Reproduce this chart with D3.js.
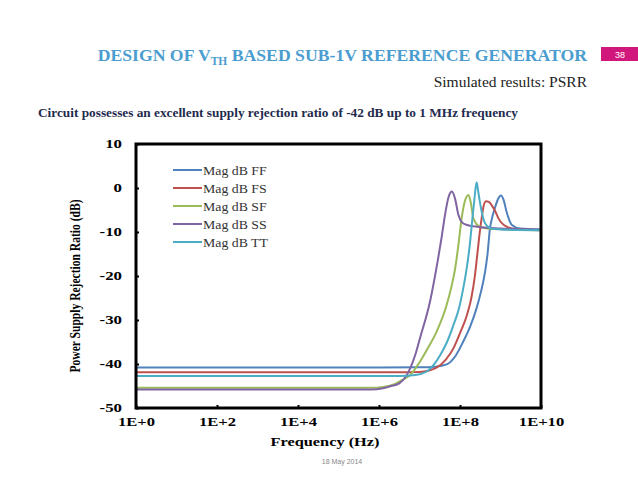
<!DOCTYPE html>
<html>
<head>
<meta charset="utf-8">
<script src="https://cdn.jsdelivr.net/npm/d3@7"></script>
<style>
  body { margin: 0; background: #fff; }
  svg { display: block; }
</style>
</head>
<body>
<svg width="638" height="479"></svg>
<script>
  // series names and colours (Excel 2007 palette)
  const seriesNames = ['Mag dB FF', 'Mag dB FS', 'Mag dB SF', 'Mag dB SS', 'Mag dB TT'];
  const seriesColors = ['#4f81bd', '#c0504d', '#9bbb59', '#8064a2', '#4bacc6'];

  // points as [log10(frequency in Hz), PSRR in dB]
  const ffPoints = [[0,-40.8],[6.0,-40.8],[7.0,-40.75],[7.4,-40.6],[7.67,-40.1],[7.9,-38],[8.08,-34.9],
    [8.25,-31.5],[8.41,-27.3],[8.52,-23.5],[8.62,-19.0],[8.68,-15],[8.74,-9.2],[8.8,-6.5],[8.86,-4.6],
    [8.94,-2.5],[9.01,-1.7],[9.08,-2.8],[9.15,-5.4],[9.28,-8.4],[9.48,-9.2],[10,-9.4]];
  const fsPoints = [[0,-41.9],[6.5,-41.9],[7.0,-41.8],[7.42,-40.8],[7.65,-39],[7.84,-36.4],[8.0,-33],
    [8.17,-28.9],[8.28,-25],[8.37,-19.8],[8.44,-14],[8.49,-9.9],[8.54,-6.5],[8.58,-4.2],[8.64,-3.0],
    [8.72,-3.2],[8.78,-3.9],[8.87,-5.3],[8.95,-6.9],[9.15,-8.8],[9.4,-9.4],[10,-9.6]];
  const sfPoints = [[0,-45.4],[5.8,-45.4],[6.1,-45.2],[6.4,-44.5],[6.6,-43.5],[6.77,-42.5],[7.01,-39.5],
    [7.2,-36.5],[7.42,-32.7],[7.67,-26.6],[7.8,-22],[7.88,-18.3],[7.96,-13],[8.04,-6.9],[8.12,-3],
    [8.21,-1.6],[8.27,-3.5],[8.33,-6.9],[8.49,-8.8],[8.8,-9.3],[10,-9.6]];
  const ssPoints = [[0,-45.8],[5.8,-45.8],[6.1,-45.5],[6.3,-45],[6.5,-44.4],[6.65,-43],[6.77,-41],
    [6.9,-37.8],[7.01,-34.2],[7.26,-25.8],[7.46,-16],[7.55,-11],[7.63,-6.1],[7.72,-2.0],[7.8,-0.8],
    [7.88,-2.5],[7.96,-6.1],[8.05,-7.8],[8.17,-8.4],[8.5,-8.9],[9,-9.2],[10,-9.5]];
  const ttPoints = [[0,-42.7],[6.5,-42.7],[6.9,-42.5],[7.18,-41.7],[7.35,-40.2],[7.51,-38],[7.68,-35],
    [7.84,-31.1],[7.97,-27.5],[8.08,-22.8],[8.17,-18],[8.25,-12.2],[8.30,-7.5],[8.35,-3.1],[8.41,1.3],
    [8.45,-0.8],[8.49,-3.1],[8.55,-6],[8.62,-8.0],[8.78,-9.2],[9.2,-9.5],[10,-9.6]];
  const seriesPoints = [ffPoints, fsPoints, sfPoints, ssPoints, ttPoints];

  const xTickValues = [1e0, 1e2, 1e4, 1e6, 1e8, 1e10];
  const xTickLabels = ['1E+0', '1E+2', '1E+4', '1E+6', '1E+8', '1E+10'];
  const yTickValues = [10, 0, -10, -20, -30, -40, -50];

  const svg = d3.select('svg');
  const serif = '"Liberation Serif", "Times New Roman", serif';

  // the chart picture was pasted stretched sideways, so widen its text
  const stretch = (sel, k) => sel.each(function () {
    const w = this.getComputedTextLength();
    d3.select(this).attr('textLength', w * k).attr('lengthAdjust', 'spacingAndGlyphs');
  });

  // slide header
  const title = svg.append('text')
    .attr('x', 587).attr('y', 61)
    .attr('text-anchor', 'end')
    .attr('font-family', serif).attr('font-weight', 'bold')
    .attr('font-size', 17.7).attr('fill', '#4b9dcf');
  title.append('tspan').text('DESIGN OF V');
  title.append('tspan').attr('font-size', 11.5).attr('dy', 4).text('TH');
  title.append('tspan').attr('dy', -4).text(' BASED SUB-1V REFERENCE GENERATOR');

  svg.append('rect')
    .attr('x', 601).attr('y', 47).attr('width', 37).attr('height', 14)
    .attr('fill', '#d2177c');
  svg.append('text')
    .attr('x', 620).attr('y', 58)
    .attr('text-anchor', 'middle')
    .attr('font-family', '"Liberation Sans", Arial, sans-serif')
    .attr('font-size', 9).attr('fill', '#fff')
    .text('38');

  svg.append('text')
    .attr('x', 587).attr('y', 87)
    .attr('text-anchor', 'end')
    .attr('font-family', serif).attr('font-size', 15.5).attr('fill', '#222')
    .text('Simulated results: PSRR');

  svg.append('text')
    .attr('x', 38).attr('y', 117)
    .attr('font-family', serif).attr('font-weight', 'bold')
    .attr('font-size', 12.5).attr('fill', '#1f2b4e')
    .attr('textLength', 480).attr('lengthAdjust', 'spacingAndGlyphs')
    .text('Circuit possesses an excellent supply rejection ratio of -42 dB up to 1 MHz frequency');

  // chart
  const margin = {top: 144, right: 97, bottom: 71, left: 136};
  const width = 638, height = 479;
  const innerWidth = width - margin.left - margin.right;
  const innerHeight = height - margin.top - margin.bottom;

  const xScale = d3.scaleLog().domain([1, 1e10]).range([0, innerWidth]);
  const yScale = d3.scaleLinear().domain([-50, 10]).range([innerHeight, 0]);

  const g = svg.append('g')
    .attr('transform', `translate(${margin.left},${margin.top})`);

  const line = d3.line()
    .x(d => xScale(Math.pow(10, d[0])))
    .y(d => yScale(d[1]))
    .curve(d3.curveMonotoneX);

  g.selectAll('path.series').data(seriesPoints)
    .enter().append('path')
      .attr('class', 'series')
      .attr('d', line)
      .attr('fill', 'none')
      .attr('stroke', (d, i) => seriesColors[i])
      .attr('stroke-width', 2);

  // plain hyphen for negatives, like the original Excel labels
  const yAxis = d3.axisLeft(yScale)
    .tickValues(yTickValues)
    .tickFormat(d => String(d))
    .tickSize(-3)
    .tickPadding(14);
  const yAxisG = g.append('g').call(yAxis);
  yAxisG.select('.domain').remove();
  yAxisG.selectAll('line').attr('stroke', '#000').attr('stroke-width', 2);
  yAxisG.selectAll('text')
    .attr('font-family', serif).attr('font-weight', 'bold')
    .attr('font-size', 12).attr('fill', '#000')
    .call(stretch, 1.4);

  const xAxis = d3.axisBottom(xScale)
    .tickValues(xTickValues)
    .tickFormat((d, i) => xTickLabels[i])
    .tickSize(-3)
    .tickPadding(9);
  const xAxisG = g.append('g')
    .attr('transform', `translate(0,${innerHeight})`)
    .call(xAxis);
  xAxisG.select('.domain').remove();
  xAxisG.selectAll('line').attr('stroke', '#000').attr('stroke-width', 2);
  xAxisG.selectAll('text')
    .attr('font-family', serif).attr('font-weight', 'bold')
    .attr('font-size', 12).attr('fill', '#000')
    .call(stretch, 1.38);

  g.append('rect')
    .attr('width', innerWidth).attr('height', innerHeight)
    .attr('fill', 'none').attr('stroke', '#000').attr('stroke-width', 3);

  // legend
  const legend = g.selectAll('g.legend').data(seriesNames)
    .enter().append('g')
      .attr('class', 'legend')
      .attr('transform', (d, i) => `translate(37,${26 + i * 18})`);
  legend.append('line')
    .attr('x1', 0).attr('x2', 29)
    .attr('stroke', (d, i) => seriesColors[i])
    .attr('stroke-width', 2);
  legend.append('text')
    .attr('x', 30).attr('y', 4.5)
    .attr('font-family', serif).attr('font-size', 11.5).attr('fill', '#333')
    .text(d => d)
    .call(stretch, 1.2);

  // axis titles
  g.append('text')
    .attr('x', 189).attr('y', innerHeight + 38)
    .attr('text-anchor', 'middle')
    .attr('font-family', serif).attr('font-weight', 'bold')
    .attr('font-size', 12.5).attr('fill', '#000')
    .attr('textLength', 109).attr('lengthAdjust', 'spacingAndGlyphs')
    .text('Frequency (Hz)');

  g.append('text')
    .attr('transform', `translate(-56,${innerHeight / 2 + 10}) rotate(-90)`)
    .attr('text-anchor', 'middle')
    .attr('font-family', serif).attr('font-weight', 'bold')
    .attr('font-size', 14).attr('fill', '#000')
    .attr('textLength', 173).attr('lengthAdjust', 'spacingAndGlyphs')
    .text('Power Supply Rejection Ratio (dB)');

  // footer
  svg.append('text')
    .attr('x', 342).attr('y', 464)
    .attr('text-anchor', 'middle')
    .attr('font-family', '"Liberation Sans", Arial, sans-serif')
    .attr('font-size', 7).attr('fill', '#888')
    .text('18 May 2014');
</script>
</body>
</html>
